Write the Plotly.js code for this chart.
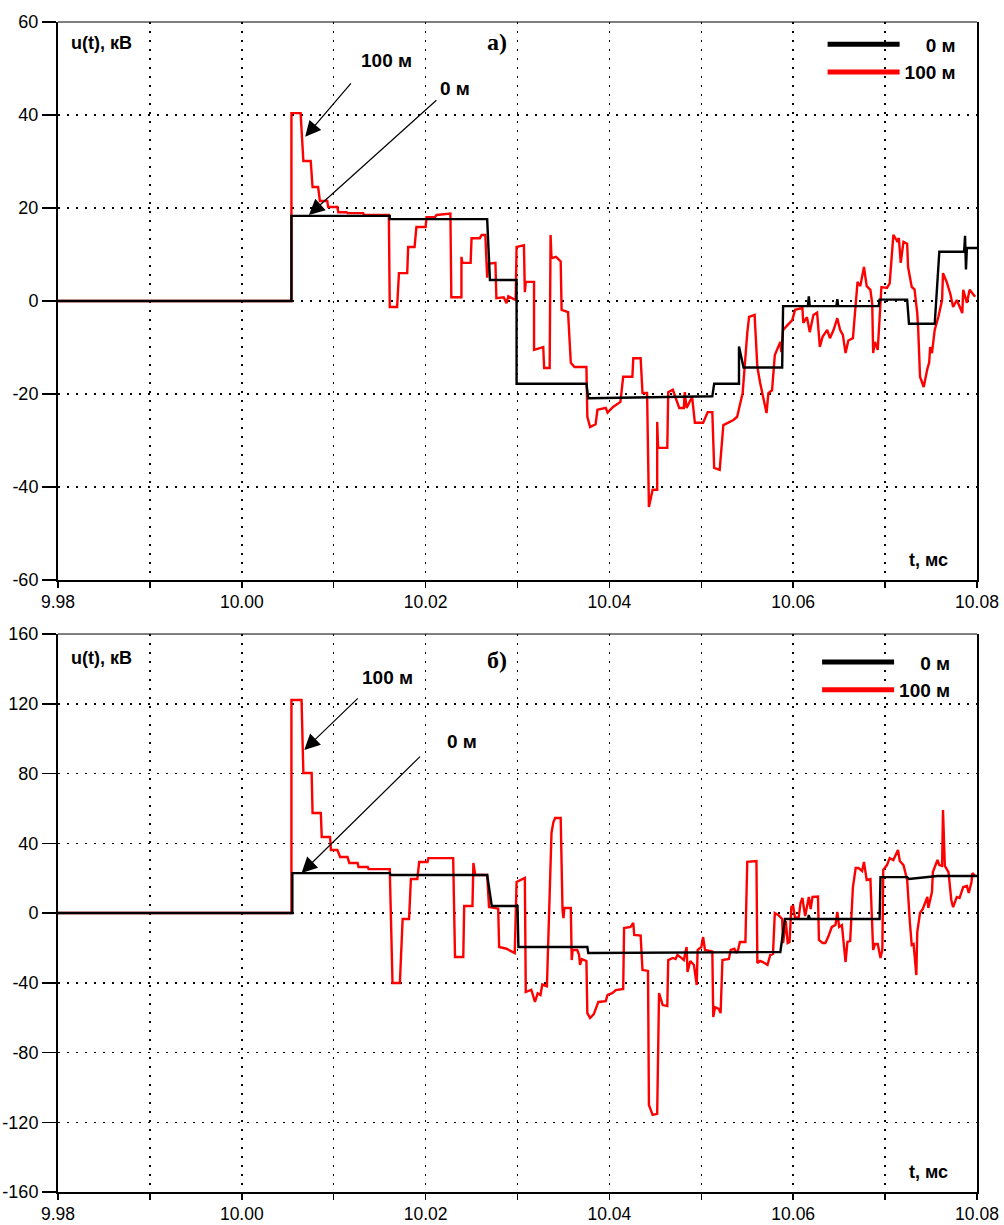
<!DOCTYPE html>
<html>
<head>
<meta charset="utf-8">
<script src="https://cdn.plot.ly/plotly-3.0.1.min.js"></script>
<style>html,body{margin:0;padding:0;background:#fff;}#chart{width:1004px;height:1225px;}</style>
</head>
<body>
<div id="chart"></div>
<script>
// ---- tick labels ----
const xTickVals = [9.98, 9.99, 10.00, 10.01, 10.02, 10.03, 10.04, 10.05, 10.06, 10.07, 10.08];
const xTickText = ['9.98', '', '10.00', '', '10.02', '', '10.04', '', '10.06', '', '10.08'];
const yTickA = [-60, -40, -20, 0, 20, 40, 60];
const yTickB = [-160, -120, -80, -40, 0, 40, 80, 120, 160];
const seriesNames = ['0 м', '100 м'];

// ---- panel а): 0 м (black) ----
const tA0 = [9.98,10.0054,10.0054,10.0161,10.0161,10.0267,10.0270,10.0299,10.0299,10.0375,10.0377,10.0512,10.0514,10.0541,10.0541,10.0546,10.0588,10.0589,10.0616,10.0617,10.0618,10.0647,10.0648,10.0649,10.0693,10.0694,10.0724,10.0726,10.0754,10.0759,10.0786,10.0787,10.0788,10.0789,10.08];
const uA0 = [0,0,18.3,18.3,17.6,17.6,4.5,4.5,-17.8,-17.8,-20.9,-20.5,-17.8,-17.8,-9.8,-14.3,-14.3,-1.1,-1.1,1.0,-1.1,-1.1,0.4,-1.1,-1.1,0.3,0.3,-4.9,-4.9,10.6,10.6,14.0,6.8,11.4,11.4];

// ---- panel а): 100 м (red) ----
const tA100 = [9.98,10.0054,10.0054,10.0064,10.0067,10.0075,10.0077,10.0083,10.0085,10.0093,
10.0094,10.0104,10.0105,10.0114,10.0115,10.0132,10.0133,10.0160,10.0161,10.0169,
10.0171,10.0180,10.0181,10.0188,10.0190,10.0200,10.0201,10.0210,10.0212,10.0227,
10.0228,10.0239,10.0239,10.0240,10.0249,10.0250,10.0259,10.0261,10.0265,10.0267,
10.0268,10.0276,10.0277,10.0285,10.0288,10.0290,10.0298,10.0299,10.0307,10.0308,
10.0309,10.0318,10.0318,10.0328,10.0329,10.0335,10.0336,10.0337,10.0342,10.0347,
10.0348,10.0355,10.0358,10.0362,10.0375,10.0376,10.0379,10.0385,10.0387,10.0396,
10.0398,10.0404,10.0412,10.0415,10.0425,10.0426,10.0434,10.0436,10.0441,10.0443,
10.0447,10.0452,10.0452,10.0453,10.0463,10.0464,10.0469,10.0476,10.0481,10.0482,
10.0484,10.0490,10.0493,10.0502,10.0507,10.0512,10.0514,10.0520,10.0524,10.0531,
10.0535,10.0539,10.0545,10.0550,10.0552,10.0558,10.0561,10.0564,10.0567,10.0571,
10.0573,10.0577,10.0580,10.0586,10.0587,10.0589,10.0599,10.0602,10.0610,10.0611,
10.0615,10.0618,10.0622,10.0626,10.0629,10.0632,10.0637,10.0640,10.0644,10.0648,
10.0651,10.0654,10.0657,10.0660,10.0665,10.0670,10.0673,10.0677,10.0680,10.0684,
10.0686,10.0687,10.0689,10.0692,10.0696,10.0702,10.0705,10.0709,10.0713,10.0715,
10.0717,10.0720,10.0724,10.0725,10.0729,10.0732,10.0735,10.0736,10.0738,10.0742,
10.0746,10.0748,10.0749,10.0751,10.0754,10.0758,10.0762,10.0763,10.0767,10.0771,
10.0774,10.0778,10.0784,10.0785,10.0789,10.0792,10.0798];
const uA100 = [0,0,40.4,40.4,30.1,30.1,24.5,24.5,21.5,21.5,
20.2,20.2,19.1,19.1,18.9,18.9,18.5,18.5,-1.3,-1.3,
6.0,6.0,11.6,11.6,15.9,15.9,18.0,18.0,18.5,18.8,
0.8,0.8,9.5,8.2,8.2,13.5,13.5,14.2,14.2,5.0,
8.0,8.2,0.6,0.8,-0.5,1.0,0.2,11.6,12.0,1.9,
4.1,4.1,-10.5,-9.9,-14.4,-14.4,14.2,9.2,9.5,8.5,
-1.9,-2.4,-13.3,-14.2,-14.2,-24.9,-27.1,-26.5,-23.4,-23.0,
-24.0,-22.8,-21.7,-16.3,-16.3,-12.3,-12.3,-19.8,-19.8,-44.3,
-40.6,-40.6,-26.0,-31.6,-31.6,-19.6,-19.1,-23.0,-23.0,-19.6,
-23.0,-20.6,-26.2,-26.2,-23.9,-23.9,-35.9,-36.3,-26.7,-26.0,
-25.6,-24.9,-19.8,-6.9,-3.4,-3.0,-14.2,-17.6,-20.6,-24.1,
-19.8,-19.2,-11.6,-8.8,-11.0,-6.2,-4.1,-1.9,-1.5,-4.7,
-3.5,-6.7,-3.0,-2.5,-9.9,-7.7,-6.2,-8.0,-6.2,-3.7,
-6.2,-7.3,-11.2,-8.5,-8.0,4.1,3.2,7.3,3.2,2.4,
-0.6,-11.2,-8.8,-10.5,3.0,2.8,3.8,14.2,12.9,13.5,
8.2,12.7,12.3,7.3,3.0,2.5,-2.6,-6.0,-16.3,-18.5,
-14.6,-13.2,-9.9,-11.2,-6.2,-3.4,0.2,6.0,4.1,1.5,
-1.3,0.2,-2.6,2.4,-0.4,2.4,0.9];

// ---- panel б): 0 м (black) ----
const tB0 = [9.98,10.0055,10.0055,10.0161,10.0162,10.0267,10.0272,10.0300,10.0301,10.0376,10.0377,10.0500,10.0586,10.0591,10.0616,10.0617,10.0618,10.0694,10.0695,10.0724,10.0726,10.0757,10.08];
const uB0 = [0,0,22.9,22.9,21.8,21.8,4.0,4.0,-19.5,-19.5,-22.9,-22.7,-22.4,-3.4,-3.4,-1.2,-3.4,-3.4,20.6,20.6,19.5,21.2,21.2];

// ---- panel б): 100 м (red) ----
const tB100 = [9.98,10.0054,10.0054,10.0065,10.0067,10.0076,10.0077,10.0086,10.0087,10.0096,
10.0097,10.0104,10.0107,10.0115,10.0117,10.0126,10.0127,10.0137,10.0138,10.0161,
10.0164,10.0172,10.0175,10.0182,10.0184,10.0191,10.0193,10.0202,10.0203,10.0230,
10.0232,10.0241,10.0242,10.0251,10.0252,10.0254,10.0267,10.0269,10.0279,10.0280,
10.0288,10.0297,10.0299,10.0308,10.0309,10.0315,10.0319,10.0322,10.0325,10.0327,
10.0332,10.0337,10.0339,10.0341,10.0347,10.0349,10.0350,10.0351,10.0358,10.0359,
10.0360,10.0365,10.0367,10.0368,10.0370,10.0375,10.0376,10.0379,10.0383,10.0388,
10.0396,10.0398,10.0403,10.0407,10.0415,10.0416,10.0423,10.0426,10.0427,10.0434,
10.0436,10.0442,10.0443,10.0447,10.0452,10.0454,10.0458,10.0463,10.0464,10.0469,
10.0472,10.0474,10.0477,10.0481,10.0484,10.0485,10.0488,10.0492,10.0495,10.0496,
10.0500,10.0502,10.0504,10.0512,10.0513,10.0515,10.0519,10.0521,10.0523,10.0530,
10.0532,10.0536,10.0538,10.0540,10.0542,10.0548,10.0550,10.0556,10.0560,10.0561,
10.0564,10.0567,10.0572,10.0575,10.0578,10.0580,10.0584,10.0588,10.0589,10.0592,
10.0594,10.0596,10.0598,10.0600,10.0602,10.0606,10.0608,10.0610,10.0613,10.0617,
10.0619,10.0621,10.0627,10.0628,10.0632,10.0635,10.0638,10.0642,10.0646,10.0648,
10.0650,10.0653,10.0657,10.0659,10.0662,10.0665,10.0668,10.0671,10.0675,10.0677,
10.0680,10.0684,10.0687,10.0689,10.0692,10.0695,10.0697,10.0698,10.0702,10.0705,
10.0709,10.0714,10.0716,10.0720,10.0724,10.0727,10.0729,10.0731,10.0734,10.0735,
10.0738,10.0741,10.0746,10.0747,10.0751,10.0752,10.0757,10.0759,10.0762,10.0763,
10.0765,10.0769,10.0772,10.0774,10.0778,10.0781,10.0785,10.0789,10.0791,10.0794,
10.0795,10.0798];
const uB100 = [0,0,122.2,122.2,80.3,80.3,57.4,57.4,43.6,43.6,
36.1,36.1,32.1,32.1,28.7,28.7,26.4,26.4,25.2,25.2,
-40.1,-40.1,-3.4,-3.4,19.5,19.5,29.3,29.3,31.5,31.5,
-25.2,-25.2,4.0,4.0,28.7,21.8,21.8,3.4,2.5,-19.5,
-20.5,-22.9,17.8,20.1,-45.3,-44.0,-51.0,-46.0,-47.0,-41.0,
-42.0,45.9,52.0,54.5,54.5,1.7,-2.9,2.9,2.9,-27.0,
-21.2,-21.2,-24.0,-29.8,-26.4,-27.5,-57.4,-60.2,-58.0,-51.0,
-50.5,-47.0,-46.0,-44.2,-43.6,-8.6,-8.0,-5.7,-12.6,-12.9,
-32.7,-33.2,-110.1,-115.8,-115.2,-45.9,-52.8,-53.3,-27.0,-25.8,
-26.4,-24.1,-25.2,-27.0,-19.5,-33.8,-27.5,-29.8,-41.3,-21.2,
-19.5,-13.8,-21.2,-22.0,-59.6,-54.0,-55.0,-57.4,-27.0,-26.4,
-21.2,-20.5,-23.0,-21.2,-16.6,-16.6,29.3,29.8,29.8,-28.7,
-27.5,-28.1,-29.8,-24.1,-23.5,0.0,-1.2,-3.4,-17.2,-4.6,
-17.2,-16.6,3.4,4.0,-2.9,-2.3,5.7,8.6,-1.7,9.2,
2.3,9.2,9.5,-15.5,-17.2,-17.2,-13.8,-8.0,-6.9,0.6,
-8.0,-6.9,-28.1,-16.6,-16.0,14.9,25.8,25.8,24.1,29.3,
18.9,19.5,-21.2,-17.8,-17.8,-25.8,-21.2,24.7,27.5,31.5,
30.4,36.1,29.8,27.5,18.9,-5.7,-18.4,-17.8,-35.6,-11.0,
0.0,2.3,9.2,2.9,12.0,23.5,30.4,27.5,27.0,59.1,
27.0,23.5,7.5,3.4,9.2,8.6,14.9,15.5,11.5,17.8,
22.9,21.2];

const RED = '#ff0000', BLACK = '#000000';
const FONT = 'Liberation Sans, Arial, sans-serif';
const SERIF = 'Liberation Serif, Times New Roman, serif';
const pad0 = '\u2007\u2007';

function dataTrace(x, y, xa, ya, color) {
  return {x: x, y: y, xaxis: xa, yaxis: ya, mode: 'lines', showlegend: false,
    line: {color: color, width: 2.4}, hoverinfo: 'skip'};
}
// legend-only entries (no data), so the legend lines can be drawn thick as in the reference
function legendTrace(name, xa, ya, color, lg) {
  return {x: [null], y: [null], xaxis: xa, yaxis: ya, mode: 'lines', name: name,
    line: {color: color, width: 5}, legend: lg, showlegend: true};
}

const traces = [
  dataTrace(tA100, uA100, 'x', 'y', RED),
  dataTrace(tA0, uA0, 'x', 'y', BLACK),
  dataTrace(tB100, uB100, 'x2', 'y2', RED),
  dataTrace(tB0, uB0, 'x2', 'y2', BLACK),
  legendTrace('<b>' + pad0 + seriesNames[0] + '</b>', 'x', 'y', BLACK, 'legend'),
  legendTrace('<b>' + seriesNames[1] + '</b>', 'x', 'y', RED, 'legend'),
  legendTrace('<b>' + pad0 + seriesNames[0] + '</b>', 'x2', 'y2', BLACK, 'legend2'),
  legendTrace('<b>' + seriesNames[1] + '</b>', 'x2', 'y2', RED, 'legend2')
];

function xAx(anchor) {
  return {anchor: anchor, domain: [0, 1], range: [9.98, 10.08], tickmode: 'array', tickvals: xTickVals, ticktext: xTickText,
    ticks: 'outside', ticklen: 6, tickwidth: 1.5, tickcolor: BLACK, ticklabelstandoff: -1,
    showline: true, linewidth: 2, linecolor: BLACK, mirror: false,
    showgrid: true, gridcolor: BLACK, gridwidth: 1.5, griddash: '2px,7px',
    zeroline: false, tickfont: {size: 17.5, family: FONT, color: BLACK}, fixedrange: true};
}
function yAx(anchor, dom, rng, vals) {
  return {anchor: anchor, domain: dom, range: rng, tickmode: 'array', tickvals: vals,
    ticktext: vals.map(v => String(v)),
    ticks: 'outside', ticklen: 14, tickwidth: 1.5, tickcolor: BLACK,
    showline: true, linewidth: 2, linecolor: BLACK, mirror: true,
    showgrid: true, gridcolor: BLACK, gridwidth: 1.5, griddash: '2px,7px',
    zeroline: false, tickfont: {size: 18, family: FONT, color: BLACK}, fixedrange: true};
}

function arrow(xr, yr, x, y, ax, ay) {
  return {xref: xr, yref: yr, x: x, y: y, ax: ax, ay: ay, text: '', showarrow: true,
    arrowhead: 2, arrowsize: 2.6, arrowwidth: 1.2, arrowcolor: BLACK, standoff: 0};
}
function label(xr, yr, x, y, txt, opts) {
  return Object.assign({xref: xr, yref: yr, x: x, y: y, text: txt, showarrow: false,
    xanchor: 'center', yanchor: 'middle',
    font: {size: 19, family: FONT, color: BLACK}}, opts || {});
}
const axisFont = {size: 18, family: FONT, color: BLACK};
const panelFont = {size: 24, family: SERIF, color: BLACK};

const annotations = [
  // panel а)
  label('x domain', 'y domain', 0.012, 0.963, '<b>u(t), кВ</b>', {xanchor: 'left', font: axisFont}),
  label('x domain', 'y domain', 0.971, 0.036, '<b>t, мс</b>', {xanchor: 'right', font: axisFont}),
  label('x', 'y', 10.0278, 55.7, '<b>а)</b>', {font: panelFont}),
  label('x', 'y', 10.0157, 51.8, '<b>100 м</b>'),
  label('x', 'y', 10.0232, 45.8, '<b>0 м</b>'),
  arrow('x', 'y', 10.0069, 35.3, 47, -55),
  arrow('x', 'y', 10.0073, 18.5, 129, -116),
  // panel б)
  label('x2 domain', 'y2 domain', 0.012, 0.957, '<b>u(t), кВ</b>', {xanchor: 'left', font: axisFont}),
  label('x2 domain', 'y2 domain', 0.971, 0.036, '<b>t, мс</b>', {xanchor: 'right', font: axisFont}),
  label('x2', 'y2', 10.0278, 145.1, '<b>б)</b>', {font: panelFont}),
  label('x2', 'y2', 10.0158, 135.3, '<b>100 м</b>'),
  label('x2', 'y2', 10.0240, 98.1, '<b>0 м</b>'),
  arrow('x2', 'y2', 10.0068, 93.5, 55, -53),
  arrow('x2', 'y2', 10.0065, 22.9, 120, -118)
];

const shapes = [
  {type: 'line', xref: 'x domain', yref: 'y domain', x0: 0, x1: 1, y0: 1, y1: 1, line: {color: BLACK, width: 1}},
  {type: 'line', xref: 'x2 domain', yref: 'y2 domain', x0: 0, x1: 1, y0: 1, y1: 1, line: {color: BLACK, width: 1}}
];

const legendBase = {xanchor: 'left', yanchor: 'top', bgcolor: 'rgba(0,0,0,0)', borderwidth: 0,
  font: {size: 19, family: FONT, color: BLACK}, itemwidth: 72, traceorder: 'normal', tracegroupgap: 0};

const layout = {
  width: 1004, height: 1225,
  margin: {l: 58, r: 27, t: 22, b: 33, pad: 0},
  paper_bgcolor: '#ffffff', plot_bgcolor: '#ffffff',
  font: {family: FONT, size: 18, color: BLACK},
  showlegend: true,
  xaxis: xAx('y'),
  yaxis: yAx('x', [0.5231, 1], [-60, 60], yTickA),
  xaxis2: xAx('y2'),
  yaxis2: yAx('x2', [0, 0.4769], [-160, 160], yTickB),
  legend: Object.assign({}, legendBase, {x: 0.832, y: 0.997}),
  legend2: Object.assign({}, legendBase, {x: 0.826, y: 0.469}),
  annotations: annotations,
  shapes: shapes
};

Plotly.newPlot('chart', traces, layout, {staticPlot: true, displayModeBar: false});
</script>
</body>
</html>
